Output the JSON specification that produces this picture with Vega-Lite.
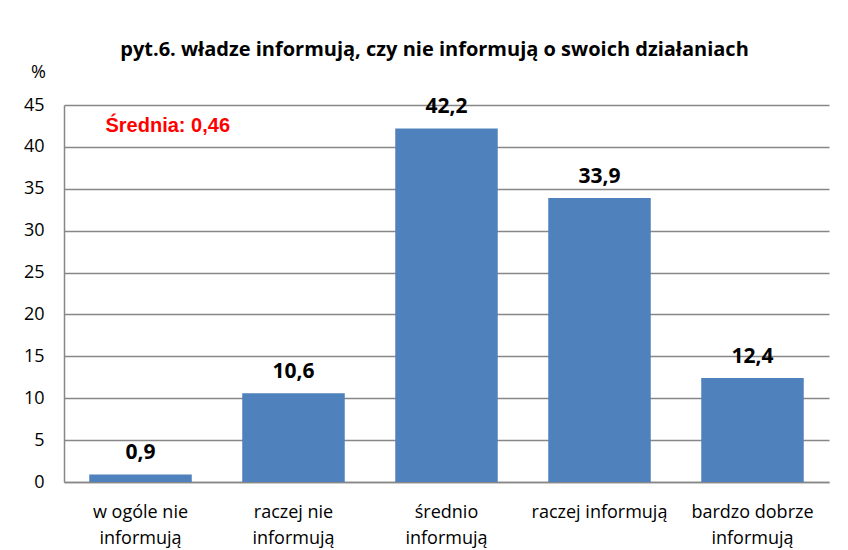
{
  "$schema": "https://vega.github.io/schema/vega-lite/v6.json",
  "autosize": {"type": "none"},
  "width": 765,
  "height": 377,
  "padding": {"left": 64, "top": 105, "right": 19, "bottom": 68},
  "background": "white",
  "config": {
    "locale": {"number": {"decimal": ",", "thousands": " ", "grouping": [3], "currency": ["", " zł"]}},
    "view": {"stroke": null},
    "font": "Open Sans"
  },
  "title": {
    "text": "pyt.6. władze informują, czy nie informują o swoich działaniach",
    "font": "Open Sans",
    "fontSize": 20,
    "fontWeight": "bold",
    "color": "black",
    "anchor": "middle",
    "dx": -12,
    "offset": 3
  },
  "data": {
    "values": [
      {"kategoria": "w ogóle nie informują", "procent": 0.9},
      {"kategoria": "raczej nie informują", "procent": 10.6},
      {"kategoria": "średnio informują", "procent": 42.2},
      {"kategoria": "raczej informują", "procent": 33.9},
      {"kategoria": "bardzo dobrze informują", "procent": 12.4}
    ]
  },
  "encoding": {
    "x": {
      "field": "kategoria",
      "type": "nominal",
      "sort": null,
      "scale": {"paddingInner": 0.33, "paddingOuter": 0.165},
      "axis": {
        "title": null,
        "labelAngle": 0,
        "labelFont": "Open Sans",
        "labelFontSize": 18,
        "labelColor": "black",
        "labelPadding": 21,
        "labelLineHeight": 26,
        "labelBaseline": "top",
        "ticks": false,
        "domainColor": "#878787",
        "domainWidth": 1.5,
        "labelExpr": "datum.value == 'raczej informują' ? datum.value : [slice(datum.value, 0, -10), 'informują']"
      }
    }
  },
  "layer": [
    {
      "mark": {"type": "bar", "color": "#4F81BD"},
      "encoding": {
        "y": {
          "field": "procent",
          "type": "quantitative",
          "scale": {"domain": [0, 45], "nice": false},
          "axis": {
            "values": [0, 5, 10, 15, 20, 25, 30, 35, 40, 45],
            "title": "%",
            "titleAngle": 0,
            "titleX": -26,
            "titleY": -33,
            "titleAlign": "center",
            "titleBaseline": "middle",
            "titleFont": "Open Sans",
            "titleFontSize": 18,
            "titleFontWeight": "normal",
            "titleColor": "black",
            "labelFont": "Open Sans",
            "labelFontSize": 18,
            "labelColor": "black",
            "labelPadding": 20,
            "ticks": false,
            "grid": true,
            "gridColor": "#878787",
            "gridWidth": 1.5,
            "domainColor": "#878787",
            "domainWidth": 1.5
          }
        }
      }
    },
    {
      "mark": {"type": "text", "font": "Open Sans", "fontSize": 21, "fontWeight": "bold", "color": "black", "baseline": "alphabetic", "dy": -15},
      "encoding": {
        "y": {"field": "procent", "type": "quantitative"},
        "text": {"field": "procent", "type": "quantitative", "format": ".1f"}
      }
    },
    {
      "data": {"values": [{"kategoria": "w ogóle nie informują", "poziom": 42.5, "tekst": "Średnia: 0,46"}]},
      "mark": {"type": "text", "font": "Liberation Sans", "fontSize": 20, "fontWeight": "bold", "color": "#FF0000", "align": "left", "baseline": "middle", "dx": -35},
      "encoding": {
        "y": {"field": "poziom", "type": "quantitative"},
        "text": {"field": "tekst"}
      }
    }
  ]
}
